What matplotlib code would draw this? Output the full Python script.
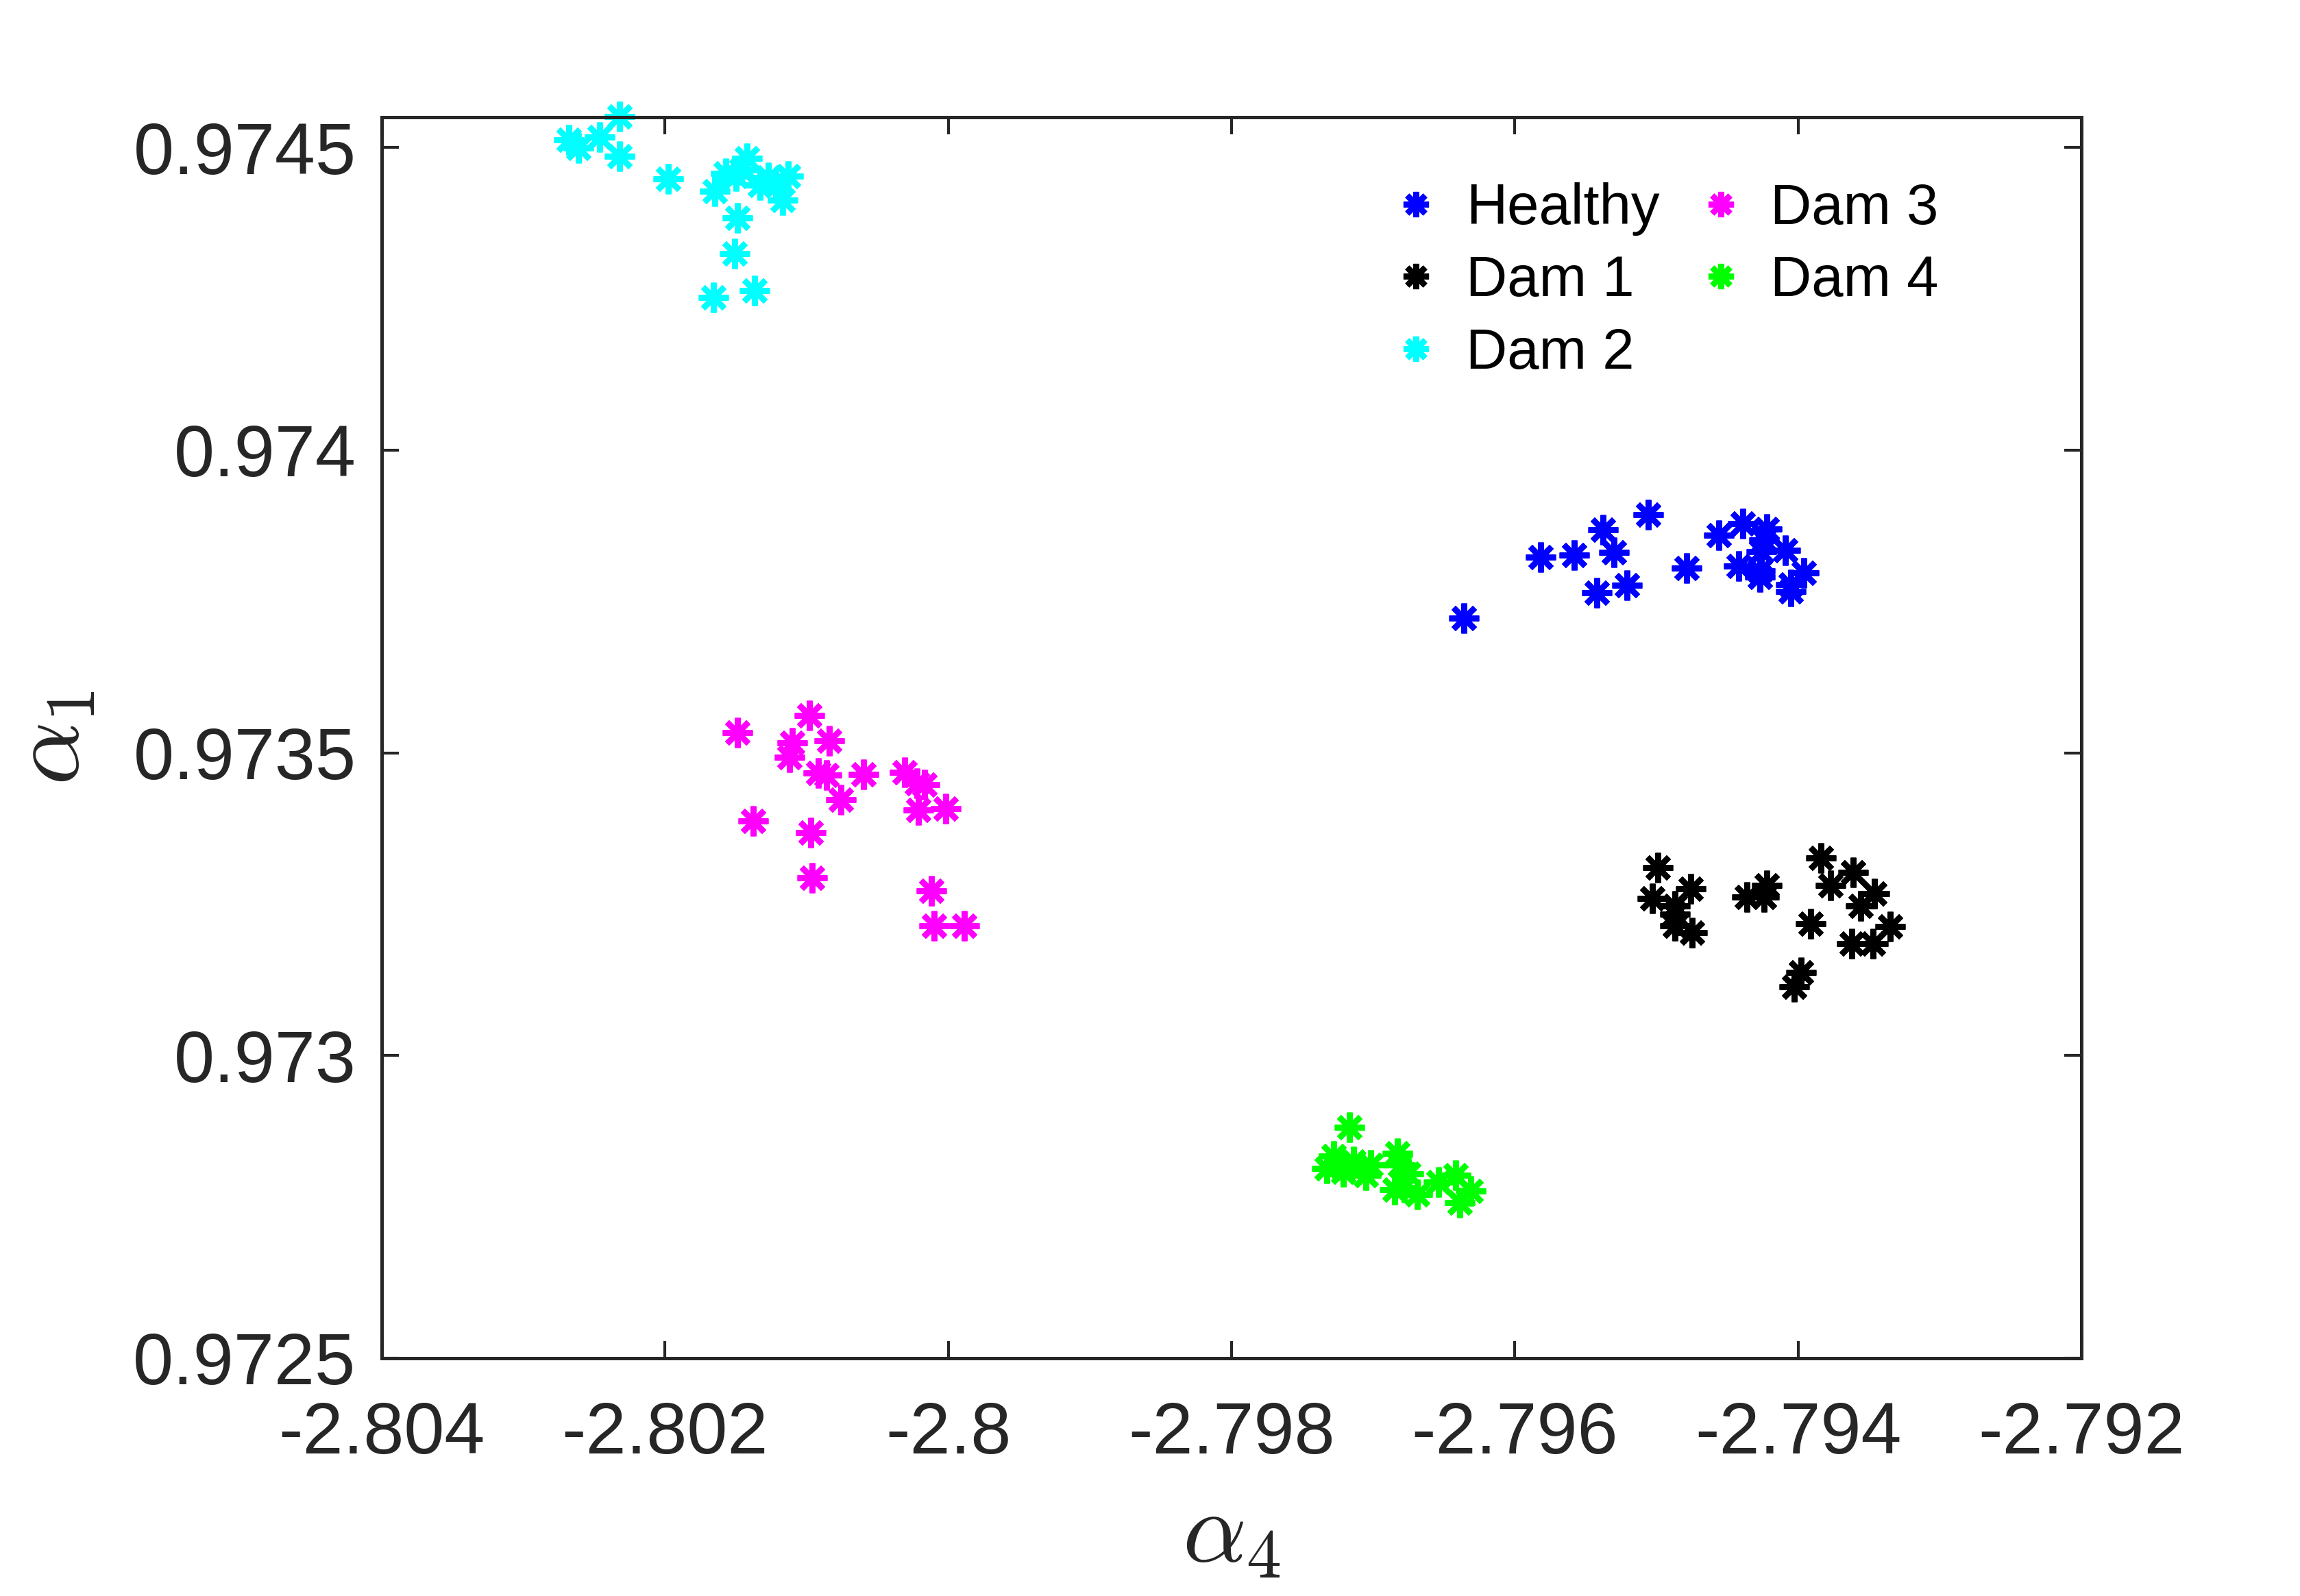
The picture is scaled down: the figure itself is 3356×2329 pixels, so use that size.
import matplotlib
matplotlib.use("Agg")
import matplotlib.pyplot as plt

# ---- data (alpha_4, alpha_1) ----
healthy_x = [-2.79636, -2.79582, -2.79558, -2.79538, -2.79530, -2.79542, -2.79521,
             -2.79506, -2.79479, -2.79456, -2.79439, -2.79422, -2.79442, -2.79426,
             -2.79409, -2.79427, -2.79396, -2.79405, -2.79427, -2.79424, -2.79405]
healthy_y = [0.973723, 0.973823, 0.973827, 0.973868, 0.973831, 0.973764, 0.973777,
             0.973893, 0.973805, 0.973859, 0.973879, 0.973870, 0.973809, 0.973832,
             0.973834, 0.973801, 0.973797, 0.973767, 0.973790, 0.973851, 0.973778]

dam1_x = [-2.79499, -2.79503, -2.79476, -2.79487, -2.79487, -2.79475, -2.79487,
          -2.79436, -2.79422, -2.79424, -2.79384, -2.79361, -2.79377, -2.79346,
          -2.79356, -2.79391, -2.79335, -2.79362, -2.79347, -2.79398, -2.79403]
dam1_y = [0.973311, 0.973260, 0.973275, 0.973247, 0.973214, 0.973203, 0.973233,
          0.973262, 0.973281, 0.973262, 0.973326, 0.973303, 0.973281, 0.973267,
          0.973247, 0.973218, 0.973213, 0.973185, 0.973185, 0.973137, 0.973114]

dam2_x = [-2.80268, -2.80261, -2.80246, -2.80232, -2.80232, -2.80198, -2.80165,
          -2.80142, -2.80150, -2.80157, -2.80133, -2.80127, -2.80113, -2.80117,
          -2.80149, -2.80151, -2.80166, -2.80137, -2.80146, -2.80122]
dam2_y = [0.974513, 0.974499, 0.974517, 0.974551, 0.974485, 0.974448, 0.974428,
          0.974482, 0.974453, 0.974457, 0.974438, 0.974450, 0.974453, 0.974413,
          0.974383, 0.974325, 0.974252, 0.974263, 0.974463, 0.974438]

dam3_x = [-2.80149, -2.80098, -2.80110, -2.80112, -2.80084, -2.80092, -2.80086,
          -2.80076, -2.80060, -2.80031, -2.80017, -2.80022, -2.80021, -2.80002,
          -2.80138, -2.80097, -2.80096, -2.80012, -2.80010, -2.79989]
dam3_y = [0.973534, 0.973562, 0.973516, 0.973493, 0.973520, 0.973467, 0.973463,
          0.973423, 0.973464, 0.973468, 0.973447, 0.973450, 0.973405, 0.973408,
          0.973387, 0.973368, 0.973293, 0.973272, 0.973214, 0.973214]

dam4_x = [-2.79717, -2.79728, -2.79733, -2.79721, -2.79714, -2.79705, -2.79702,
          -2.79683, -2.79681, -2.79685, -2.79675, -2.79669, -2.79654, -2.79642,
          -2.79631, -2.79639, -2.79725, -2.79678]
dam4_y = [0.972882, 0.972834, 0.972814, 0.972808, 0.972825, 0.972802, 0.972819,
          0.972838, 0.972819, 0.972778, 0.972804, 0.972770, 0.972791, 0.972802,
          0.972776, 0.972757, 0.972819, 0.972782]

series_labels = ["Healthy", "Dam 1", "Dam 2", "Dam 3", "Dam 4"]
series_colors = ["#0000FF", "#000000", "#00FFFF", "#FF00FF", "#00FF00"]

x_ticks = [-2.804, -2.802, -2.800, -2.798, -2.796, -2.794, -2.792]
x_tick_labels = ["-2.804", "-2.802", "-2.8", "-2.798", "-2.796", "-2.794", "-2.792"]
y_ticks = [0.9725, 0.9730, 0.9735, 0.9740, 0.9745]
y_tick_labels = ["0.9725", "0.973", "0.9735", "0.974", "0.9745"]

# ---- plotting ----
plt.rcParams['font.family'] = ['Liberation Sans', 'DejaVu Sans']
plt.rcParams['mathtext.fontset'] = 'cm'

fig = plt.figure(figsize=(3356 / 300, 2329 / 300), dpi=300)
ax = fig.add_axes([0.166, 0.149, 0.739, 0.7776])

axis_color = "#262626"
star = (8, 2, 0)
xs = [healthy_x, dam1_x, dam2_x, dam3_x, dam4_x]
ys = [healthy_y, dam1_y, dam2_y, dam3_y, dam4_y]
for x, y, lab, col in zip(xs, ys, series_labels, series_colors):
    ax.plot(x, y, linestyle='none', marker=star, markersize=10.5,
            markeredgewidth=2.0, color=col, label=lab, clip_on=False)

ax.set_xlim(-2.804, -2.792)
ax.set_ylim(0.9725, 0.97455)
ax.set_xticks(x_ticks)
ax.set_xticklabels(x_tick_labels)
ax.set_yticks(y_ticks)
ax.set_yticklabels(y_tick_labels)

ax.tick_params(direction='in', length=6, width=1.0, top=True, right=True,
               labelsize=25.5, colors=axis_color, pad=9)
ax.tick_params(axis='x', pad=15)
for s in ax.spines.values():
    s.set_linewidth(1.2)
    s.set_color(axis_color)

ax.set_xlabel(r'$\alpha_4$', fontsize=35, color=axis_color, labelpad=7)
ax.set_ylabel(r'$\alpha_1$', fontsize=35, color=axis_color, labelpad=12)

leg = ax.legend(ncol=2, loc='upper left', bbox_to_anchor=(0.58, 0.966),
                frameon=False, fontsize=20, handlelength=0.9, handletextpad=0.42,
                columnspacing=0.62, labelspacing=0.33, borderaxespad=0,
                markerscale=0.85)
for t in leg.get_texts():
    t.set_color('black')

fig.savefig("out.png", dpi=300, facecolor='white')
